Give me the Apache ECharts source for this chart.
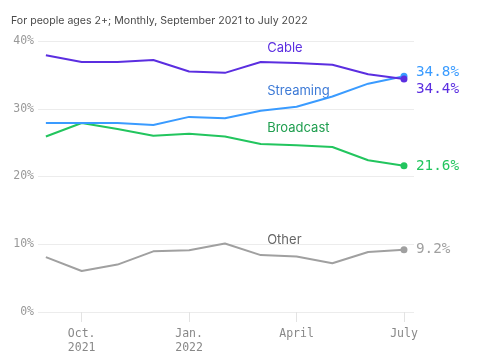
<!DOCTYPE html>
<html><head><meta charset="utf-8">
<script src="https://cdn.jsdelivr.net/npm/echarts@6/dist/echarts.min.js"></script>
<style>html,body{margin:0;padding:0;background:#fff}#c{width:480px;height:360px}</style>
</head><body><div id="c"></div>
<script>
var months = ['Sep 2021','Oct 2021','Nov 2021','Dec 2021','Jan 2022','Feb 2022','Mar 2022','Apr 2022','May 2022','Jun 2022','Jul 2022'];
var tickIndex = [1, 4, 7, 10];
var tickLabels = ['Oct.\n2021', 'Jan.\n2022', 'April', 'July'];
var yTicks = [0, 10, 20, 30, 40];
var cable = [37.9, 36.9, 36.9, 37.2, 35.5, 35.3, 36.9, 36.75, 36.5, 35.1, 34.4];
var streaming = [27.9, 27.9, 27.9, 27.6, 28.8, 28.6, 29.7, 30.3, 31.8, 33.7, 34.8];
var broadcast = [25.9, 27.9, 27.0, 26.0, 26.3, 25.9, 24.8, 24.6, 24.35, 22.4, 21.6];
var other = [8.1, 6.05, 7.0, 8.95, 9.1, 10.1, 8.4, 8.2, 7.2, 8.85, 9.2];

var chart = echarts.init(document.getElementById('c'));
var mono = '"DejaVu Sans Mono", monospace';
function mk(name, vals, color, offY) {
  return {
    name: name, type: 'line', symbol: 'none', showSymbol: true,
    lineStyle: {width: 2, color: color}, itemStyle: {color: color},
    silent: true, animation: false,
    data: vals.map(function (v, i) {
      var d = {value: [i, v]};
      if (i === vals.length - 1) { d.symbol = 'circle'; d.symbolSize = 7; }
      return d;
    }),
    endLabel: {
      show: true, color: color, fontFamily: mono, fontSize: 14.3, offset: [4, offY],
      formatter: function (p) { return p.value[1] + '%'; }
    }
  };
}
chart.setOption({
  animation: false,
  title: {text: 'For people ages 2+; Monthly, September 2021 to July 2022', left: 6, top: 10,
    textStyle: {fontSize: 10.6, fontWeight: 'normal', color: '#4a4a4a', fontFamily: 'Inter'}},
  grid: {left: 38, right: 66, top: 41, bottom: 48},
  xAxis: {type: 'value', min: -0.22, max: 10.28,
    splitLine: {show: false}, axisLine: {show: false},
    axisTick: {show: true, customValues: tickIndex, length: 10, lineStyle: {color: '#e3e3e3'}},
    axisLabel: {customValues: tickIndex, color: '#888', fontFamily: mono, fontSize: 11.5, lineHeight: 14, margin: 15,
      formatter: function (v) { var k = tickIndex.indexOf(Math.round(v)); return k >= 0 ? tickLabels[k] : ''; }}
  },
  yAxis: {type: 'value', min: 0, max: 40, interval: 10,
    axisLine: {show: false}, axisTick: {show: false},
    splitLine: {lineStyle: {color: '#ececec', width: 1}},
    axisLabel: {color: '#999', fontFamily: mono, fontSize: 11.5, margin: 4, formatter: '{value}%'}
  },
  series: [
    mk('Other', other, '#a0a0a0', 0),
    mk('Broadcast', broadcast, '#22c55e', 1),
    mk('Streaming', streaming, '#3a9bff', -4),
    mk('Cable', cable, '#5b2ee0', 10)
  ]
});
var names = [['Cable', 6.18, 38.97, '#5b2ee0'], ['Streaming', 6.18, 32.6, '#3d7ad6'], ['Broadcast', 6.18, 27.2, '#1f9e4f'], ['Other', 6.18, 10.6, '#666']];
chart.setOption({graphic: names.map(function (n) {
  var p = chart.convertToPixel({gridIndex: 0}, [n[1], n[2]]);
  return {type: 'text', x: p[0], y: p[1], style: {text: n[0], fill: n[3], font: '13px Inter', textVerticalAlign: 'middle'}};
})});
</script></body></html>
